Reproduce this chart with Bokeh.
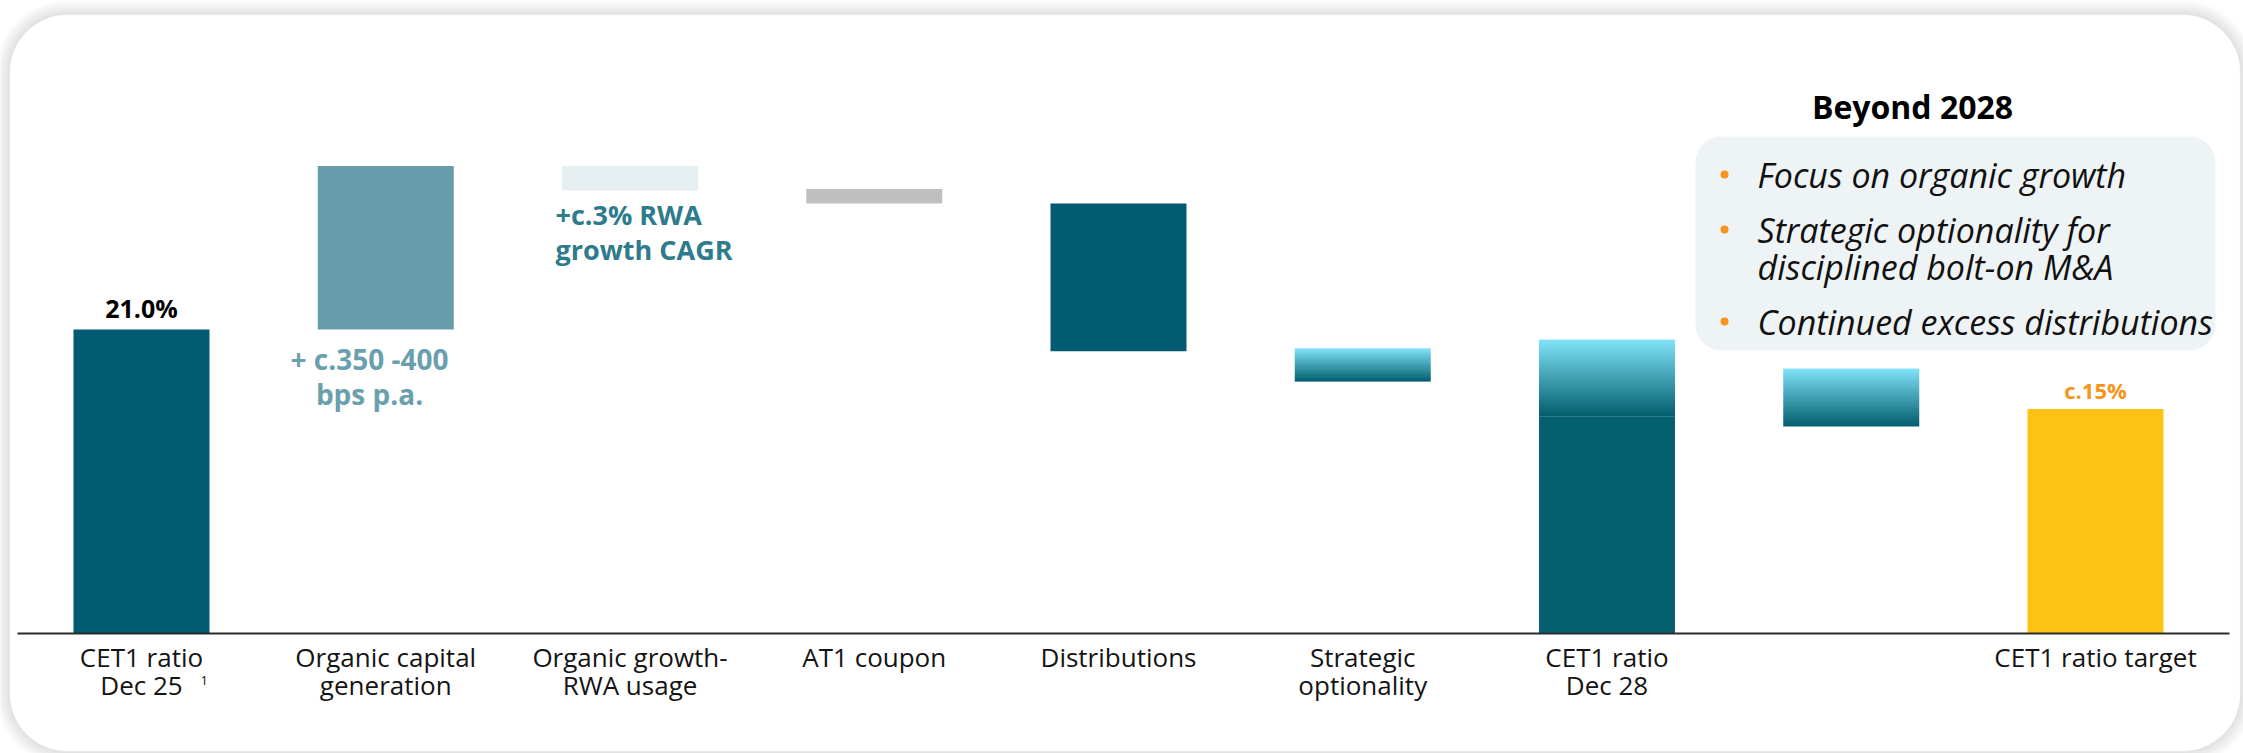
import numpy as np
from bokeh.plotting import figure
from bokeh.models import Range1d, BoxAnnotation
from bokeh.core.properties import value
from bokeh.embed import file_html
from bokeh.resources import INLINE

# ---------------- data ----------------
categories = ["CET1 ratio\nDec 25", "Organic capital\ngeneration", "Organic growth-\nRWA usage",
              "AT1 coupon", "Distributions", "Strategic\noptionality", "CET1 ratio\nDec 28", "",
              "CET1 ratio target"]

# solid (flat coloured) bars: category index, low, high (CET1 %)
solid_idx = [0, 1, 2, 3, 4, 6, 8]
solid_low = [0.0, 21.0, 30.6, 29.7, 19.5, 0.0, 0.0]
solid_high = [21.0, 32.3, 32.3, 30.7, 29.7, 15.0, 15.5]
solid_colors = ["#035b73", "#679caa", "#e5eef1", "#bfbfbf", "#035b73", "#04606f", "#fdc213"]

# gradient (strategic optionality) bars: category index, low, high
grad_idx = [5, 6, 7]
grad_low = [17.4, 15.0, 14.3]
grad_high = [19.7, 20.3, 18.3]

start_label = "21.0%"
target_label = "c.15%"
organic_note = "+ c.350 -400\nbps p.a."
rwa_note = "+c.3% RWA\ngrowth CAGR"
box_title = "Beyond 2028"
bullets = ["Focus on organic growth", "Strategic optionality for\ndisciplined bolt-on M&A",
           "Continued excess distributions"]

# ---------------- layout helpers (page pixels -> data) ----------------
PX0, PXS = 141.0, 244.25      # page x of first category centre, px per category
PY0, PYS = 633.0, 14.476      # page y of 0 %, px per %
W = 136.0 / PXS               # bar width
BASE_FIX = 0.34               # svg text baseline correction (em)


def px2x(px):
    return (px - PX0) / PXS


def py2y(py):
    return (PY0 - py) / PYS


def tb(py, size):
    """data y for a text baseline at page y py, font size in px"""
    return py2y(py - BASE_FIX * size)


FW, FH = 2243, 753
p = figure(width=FW, height=FH, output_backend="svg", toolbar_location=None,
           x_range=Range1d(px2x(0), px2x(FW)), y_range=Range1d(py2y(FH), py2y(0)),
           x_axis_type=None, y_axis_type=None, min_border=0, outline_line_color=None,
           background_fill_color="white", border_fill_color="white")

FONT = value("Open Sans")

# ---------------- card with soft shadow ----------------
cl, cr, ct, cb = 9, 2240, 14, 751
for k in range(7, 0, -1):
    d = 2 * k
    p.add_layout(BoxAnnotation(left=px2x(cl - d), right=px2x(cr + d), top=py2y(ct - d),
                               bottom=py2y(cb + d), fill_color="black", fill_alpha=0.016,
                               line_color=None, border_radius=58 + d, level="underlay"))
p.add_layout(BoxAnnotation(left=px2x(cl), right=px2x(cr), top=py2y(ct), bottom=py2y(cb),
                           fill_color="white", fill_alpha=1.0, line_color="#d9d9d9",
                           line_width=1.5, border_radius=58, level="underlay"))

# "Beyond 2028" box
p.add_layout(BoxAnnotation(left=px2x(1695), right=px2x(2215), top=py2y(136), bottom=py2y(350),
                           fill_color="#eef3f5", fill_alpha=1.0, line_color=None,
                           border_radius=26, level="underlay"))

# ---------------- bars ----------------
p.vbar(x=solid_idx, width=W, bottom=solid_low, top=solid_high, fill_color=solid_colors,
       line_color=None)

N = 128
top_rgb = np.array([0x82, 0xe4, 0xfb], dtype=float)
bot_rgb = np.array([0x03, 0x5f, 0x6e], dtype=float)
t = np.linspace(0.0, 1.0, N)[:, None]
rgb = bot_rgb + (top_rgb - bot_rgb) * t
img = np.empty((N, 1), dtype=np.uint32)
view = img.view(dtype=np.uint8).reshape((N, 1, 4))
view[:, 0, 0] = rgb[:, 0].astype(np.uint8)
view[:, 0, 1] = rgb[:, 1].astype(np.uint8)
view[:, 0, 2] = rgb[:, 2].astype(np.uint8)
view[:, 0, 3] = 255
p.image_rgba(image=[img] * len(grad_idx), x=[i - W / 2 for i in grad_idx], y=grad_low,
             dw=[W] * len(grad_idx), dh=[h - l for h, l in zip(grad_high, grad_low)])

# baseline axis line
p.segment(x0=[px2x(17)], x1=[px2x(2229)], y0=[0], y1=[0], line_color="#2b2b2b", line_width=2)

# ---------------- category labels ----------------
CAT_SIZE = 26
line1 = [c.split("\n")[0] for c in categories]
line2 = [c.split("\n")[1] if "\n" in c else "" for c in categories]
idx = list(range(len(categories)))
p.text(x=idx, y=[tb(665, CAT_SIZE)] * len(idx), text=line1, text_font=FONT,
       text_font_size=f"{CAT_SIZE}px", text_align="center", text_baseline="alphabetic",
       text_color="#141414")
p.text(x=idx, y=[tb(693, CAT_SIZE)] * len(idx), text=line2, text_font=FONT,
       text_font_size=f"{CAT_SIZE}px", text_align="center", text_baseline="alphabetic",
       text_color="#141414")
p.text(x=[px2x(200)], y=[tb(684, 13)], text=["1"], text_font=FONT, text_font_size="13px",
       text_align="left", text_baseline="alphabetic", text_color="#141414")

# ---------------- value labels ----------------
p.text(x=[0], y=[solid_high[0] + (13 + BASE_FIX * 25) / PYS], text=[start_label], text_font=FONT,
       text_font_size="25px", text_font_style="bold", text_align="center",
       text_baseline="alphabetic", text_color="#000000")
p.text(x=[8], y=[solid_high[-1] + (12 + BASE_FIX * 22) / PYS], text=[target_label], text_font=FONT,
       text_font_size="22px", text_font_style="bold", text_align="center",
       text_baseline="alphabetic", text_color="#f7941d")

org_lines = organic_note.split("\n")
p.text(x=[px2x(369)] * 2, y=[tb(368, 28), tb(403, 28)], text=org_lines, text_font=FONT,
       text_font_size="28px", text_font_style="bold", text_align="center",
       text_baseline="alphabetic", text_color="#6a9fad")
rwa_lines = rwa_note.split("\n")
p.text(x=[px2x(555)] * 2, y=[tb(223, 27), tb(258, 27)], text=rwa_lines, text_font=FONT,
       text_font_size="27px", text_font_style="bold", text_align="left",
       text_baseline="alphabetic", text_color="#2d7b8c")

# ---------------- Beyond 2028 ----------------
p.text(x=[px2x(1912)], y=[tb(117, 32)], text=[box_title], text_font=FONT, text_font_size="32px",
       text_font_style="bold", text_align="center", text_baseline="alphabetic",
       text_color="#000000")

B_SIZE = 34
b_lines, b_base, dots = [], [], []
base = [186, 241, 333]
for b, y0 in zip(bullets, base):
    parts = b.split("\n")
    dots.append(y0 - 12)
    for j, s in enumerate(parts):
        b_lines.append(s)
        b_base.append(y0 + 37 * j)
p.scatter(x=[px2x(1724)] * len(dots), y=[py2y(d) for d in dots], marker="circle", size=8,
          fill_color="#f7941d", line_color=None)
p.text(x=[px2x(1757)] * len(b_lines), y=[tb(v, B_SIZE) for v in b_base], text=b_lines,
       text_font=FONT, text_font_size=f"{B_SIZE}px", text_font_style="italic",
       text_align="left", text_baseline="alphabetic", text_color="#111111")

open("out.html", "w").write(file_html(p, INLINE))
